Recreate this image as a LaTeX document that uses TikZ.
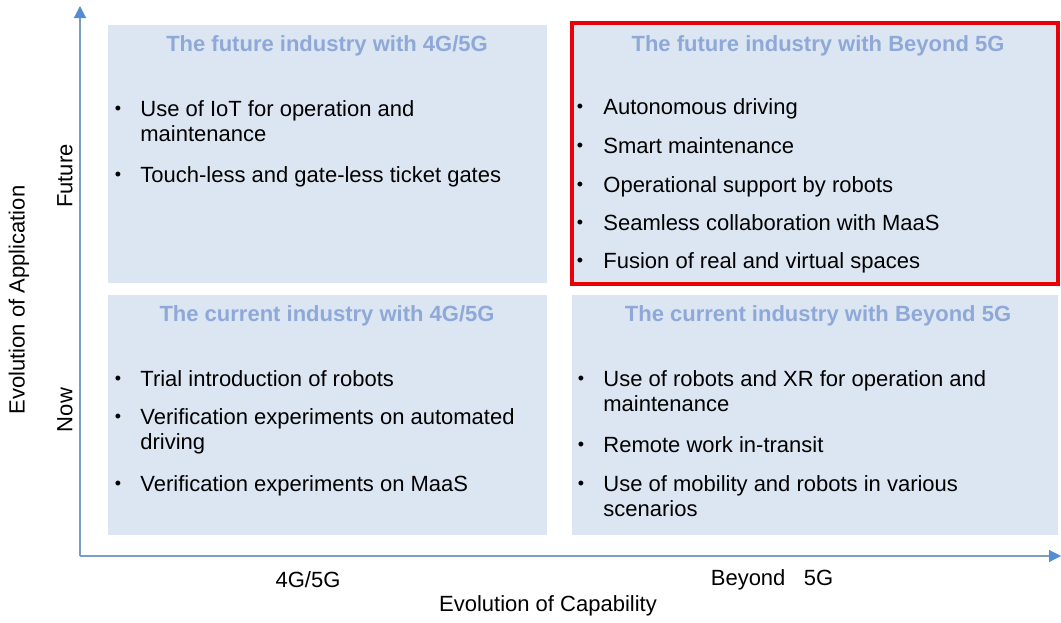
\documentclass[tikz,border=0pt]{standalone}
\usepackage{fontspec}
\setmainfont{Liberation Sans}
\usetikzlibrary{arrows.meta}
\definecolor{boxfill}{RGB}{220,230,242}
\definecolor{headblue}{RGB}{142,168,216}
\definecolor{axisline}{RGB}{120,158,196}
\definecolor{axistip}{RGB}{84,141,212}
\definecolor{markred}{RGB}{232,0,10}
\tikzset{
  quad/.style={fill=boxfill},
  head/.style={text=headblue, font=\fontsize{11}{13}\selectfont\bfseries},
  txt/.style={anchor=base west, inner sep=0pt, font=\fontsize{11}{13}\selectfont},
  dot/.style={anchor=base, inner sep=0pt, yshift=0.6pt, font=\fontsize{9}{11}\selectfont},
  axis/.style={draw=axisline, line width=0.6pt, -{Triangle[length=6pt, width=6pt, color=axistip, fill=axistip]}},
  lab/.style={font=\fontsize{11}{13}\selectfont}
}
\begin{document}
\begin{tikzpicture}[x=0.5pt, y=-0.5pt]
\useasboundingbox (0,0) rectangle (1061,622);
% quadrants
\fill[quad] (108,25) rectangle (547,283);
\fill[quad] (572,23) rectangle (1058,284);
\fill[quad] (108,295) rectangle (547,535);
\fill[quad] (572,295) rectangle (1058,535);
\draw[markred, line width=2pt] (572,23) rectangle (1058,284);
% axes
\coordinate (origin) at (80,556);
\coordinate (ytop) at (80,6);
\coordinate (xend) at (1061,556);
\draw[axis] (origin) -- (ytop);
\draw[axis] (origin) -- (xend);
% titles
\node[head] (tl) at (327,46) {The future industry with 4G/5G};
\node[head] (tr) at (818,46) {The future industry with Beyond 5G};
\node[head] (bl) at (327,316) {The current industry with 4G/5G};
\node[head] (br) at (818,316) {The current industry with Beyond 5G};
% future, 4G/5G (baselines)
\foreach \y in {116,182}
  \node[dot] at (118,\y) {\textbullet};
\node[txt] (tl1) at (140,116) {Use of IoT for operation and};
\node[txt] (tl1b) at (140,141) {maintenance};
\node[txt] (tl2) at (140,182) {Touch-less and gate-less ticket gates};
% future, Beyond 5G
\foreach \y in {114,153,192,230,268}
  \node[dot] at (580,\y) {\textbullet};
\node[txt] (tr1) at (603,114) {Autonomous driving};
\node[txt] (tr2) at (603,153) {Smart maintenance};
\node[txt] (tr3) at (603,192) {Operational support by robots};
\node[txt] (tr4) at (603,230) {Seamless collaboration with MaaS};
\node[txt] (tr5) at (603,268) {Fusion of real and virtual spaces};
% current, 4G/5G
\foreach \y in {386,424,491}
  \node[dot] at (118,\y) {\textbullet};
\node[txt] (bl1) at (140,386) {Trial introduction of robots};
\node[txt] (bl2) at (140,424) {Verification experiments on automated};
\node[txt] (bl2b) at (140,449) {driving};
\node[txt] (bl3) at (140,491) {Verification experiments on MaaS};
% current, Beyond 5G
\foreach \y in {386,452,491}
  \node[dot] at (581,\y) {\textbullet};
\node[txt] (br1) at (603,386) {Use of robots and XR for operation and};
\node[txt] (br1b) at (603,411) {maintenance};
\node[txt] (br2) at (603,452) {Remote work in-transit};
\node[txt] (br3) at (603,491) {Use of mobility and robots in various};
\node[txt] (br3b) at (603,516) {scenarios};
% axis labels
\node[lab, rotate=90] (future) at (65,176) {Future};
\node[lab, rotate=90] (now) at (65,410) {Now};
\node[lab, rotate=90] (yname) at (19,300) {Evolution of Application};
\node[lab] (lte) at (308,580) {4G/5G};
\node[lab] (b5g) at (772,580) {Beyond\ \ \ 5G};
\node[lab] (xname) at (548,606) {Evolution of Capability};
\end{tikzpicture}
\end{document}
